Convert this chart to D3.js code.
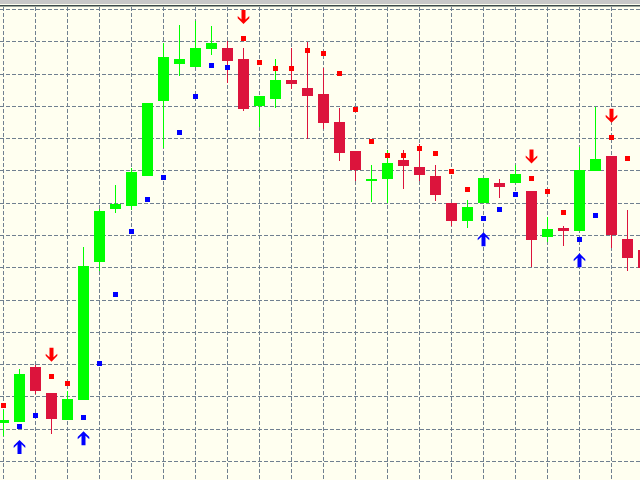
<!DOCTYPE html>
<html>
<head>
<meta charset="utf-8">
<script src="https://cdn.jsdelivr.net/npm/d3@7"></script>
<style>
html,body{margin:0;padding:0;background:#fffff0;overflow:hidden;}
svg{display:block;}
</style>
</head>
<body>
<script>
// Candle data (price units; one grid step = 10)
const opens  = [12.0, 12.3, 29.2, 21.2, 12.9, 19.1, 61.8, 78.2, 79.2, 88.4, 111.7, 123.1, 122.2, 127.8, 128.0, 124.6, 110.1, 112.3, 118.1, 115.6, 113.8, 105.1, 96.2, 86.9, 87.4, 93.3, 91.1, 88.4, 80.0, 74.5, 80.0, 86.2, 86.3, 83.7, 69.4, 72.3, 71.4, 90.0, 94.5, 68.8, 65.4];
const closes = [13.0, 27.0, 21.9, 13.2, 19.3, 60.5, 77.5, 79.8, 89.6, 111.0, 125.2, 124.6, 128.0, 129.5, 124.1, 109.2, 113.1, 118.1, 116.8, 113.2, 104.9, 95.6, 90.3, 87.5, 92.4, 91.5, 88.7, 82.5, 74.5, 78.8, 87.7, 85.0, 89.0, 68.6, 71.9, 71.4, 90.2, 93.6, 70.2, 63.1, 59.9];
const highs  = [15.9, 28.6, 29.8, 21.2, 21.9, 66.3, 78.3, 85.6, 91.0, 111.0, 129.6, 135.1, 136.5, 134.8, 130.2, 128.0, 113.1, 124.6, 128.0, 129.9, 121.8, 109.4, 96.2, 91.8, 96.4, 96.4, 98.3, 91.8, 80.0, 80.9, 87.7, 87.4, 91.8, 83.7, 75.7, 73.0, 97.4, 109.8, 94.5, 77.8, 67.0];
const lows   = [7.8, 12.3, 20.8, 8.5, 12.9, 19.1, 59.0, 77.0, 77.9, 88.4, 97.2, 119.4, 122.2, 125.9, 117.3, 108.6, 103.6, 109.5, 115.5, 99.9, 102.9, 93.1, 86.9, 80.3, 80.0, 84.3, 86.9, 80.7, 73.0, 72.3, 80.0, 81.6, 86.3, 60.3, 68.0, 66.8, 71.4, 90.0, 66.2, 59.0, 57.0];

// Indicator dots (SAR-like): value and side ('r' above / 'b' below)
const dotValues = [17.3, 10.8, 14.2, 26.3, 24.2, 13.6, 30.3, 51.7, 71.2, 81.1, 88.0, 101.9, 113.0, 122.6, 122.0, 131.0, 123.6, 121.7, 121.7, 127.3, 126.4, 120.2, 109.0, 99.1, 94.8, 94.8, 96.9, 95.4, 89.8, 84.2, 75.3, 78.0, 82.7, 87.6, 83.6, 77.1, 68.8, 76.2, 100.3, 93.8, null];
const dotSides  = ['r','b','b','r','r','b','b','b','b','b','b','b','b','b','b','r','r','r','r','r','r','r','r','r','r','r','r','r','r','r','b','b','b','r','r','r','b','b','r','r',null];

// Signal arrows
const upArrowIdx = [1, 5, 30, 36];
const upArrowVal = [4.5, 7.2, 68.8, 62.3];
const downArrowIdx = [3, 15, 33, 38];
const downArrowVal = [33.1, 137.7, 94.5, 107.1];

// Grid levels
const gridPrices = [0,10,20,30,40,50,60,70,80,90,100,110,120,130,140];
const gridBars = [0,2,4,6,8,10,12,14,16,18,20,22,24,26,28,30,32,34,36,38,40];

const W = 640, H = 480;
const svg = d3.select("body").append("svg").attr("width", W).attr("height", H);

const x = d3.scaleLinear().domain([0, 40]).range([3.5, 643.5]);
const y = d3.scaleLinear().domain([0, 140]).range([461.5, 9.5]);

svg.append("rect").attr("width", W).attr("height", H).attr("fill", "#fffff0");

const grid = svg.append("g").attr("stroke", "#708090").attr("stroke-width", 1)
  .attr("stroke-dasharray", "4,2").attr("shape-rendering", "crispEdges");
grid.selectAll("line.h").data(gridPrices).join("line").attr("class", "h")
  .attr("x1", 0).attr("x2", W)
  .attr("y1", d => Math.floor(y(d)) + 0.5).attr("y2", d => Math.floor(y(d)) + 0.5);
grid.selectAll("line.v").data(gridBars).join("line").attr("class", "v")
  .attr("x1", d => x(d)).attr("x2", d => x(d)).attr("y1", 7).attr("y2", H);

const candles = opens.map((o, i) => ({i, o, c: closes[i], h: highs[i], l: lows[i]}));
const GREEN = "#00ff00", RED = "#dc143c";
const cg = svg.append("g").attr("shape-rendering", "crispEdges");
cg.selectAll("line.wick").data(candles).join("line").attr("class", "wick")
  .attr("x1", d => x(d.i)).attr("x2", d => x(d.i))
  .attr("y1", d => y(d.h)).attr("y2", d => y(d.l))
  .attr("stroke", d => d.c >= d.o ? GREEN : RED).attr("stroke-width", 1);
cg.selectAll("rect.body").data(candles).join("rect").attr("class", "body")
  .attr("x", d => x(d.i) - 5.5).attr("width", 11)
  .attr("y", d => y(Math.max(d.o, d.c)))
  .attr("height", d => Math.max(1.5, Math.abs(y(d.o) - y(d.c))))
  .attr("fill", d => d.c >= d.o ? GREEN : RED);

const dots = dotValues.map((v, i) => ({i, v, s: dotSides[i]})).filter(d => d.v !== null);
svg.append("g").attr("shape-rendering", "crispEdges").selectAll("rect").data(dots).join("rect")
  .attr("x", d => Math.round(x(d.i) - 2.5)).attr("y", d => Math.round(y(d.v) - 2.5))
  .attr("width", 5).attr("height", 5)
  .attr("fill", d => d.s === 'r' ? "#ff0000" : "#0000ff");

const upPath = "M0,-7 L5.8,-1.2 L5.8,1 L2,-2.6 L2,7 L-2,7 L-2,-2.6 L-5.8,1 L-5.8,-1.2 Z";
const ag = svg.append("g");
ag.selectAll("path.up").data(upArrowIdx.map((i, k) => ({i, v: upArrowVal[k]}))).join("path")
  .attr("class", "up").attr("d", upPath)
  .attr("transform", d => `translate(${x(d.i)},${y(d.v)})`)
  .attr("fill", "#0000ff");
ag.selectAll("path.down").data(downArrowIdx.map((i, k) => ({i, v: downArrowVal[k]}))).join("path")
  .attr("class", "down").attr("d", upPath)
  .attr("transform", d => `translate(${x(d.i)},${y(d.v)}) scale(1,-1)`)
  .attr("fill", "#ff0000");

// top frame
svg.append("rect").attr("x", 0).attr("y", 0).attr("width", W).attr("height", 4).attr("fill", "#c8c8c8");
svg.append("rect").attr("x", 0).attr("y", 5).attr("width", W).attr("height", 1.5).attr("fill", "#3c4b4b");
</script>
</body>
</html>
